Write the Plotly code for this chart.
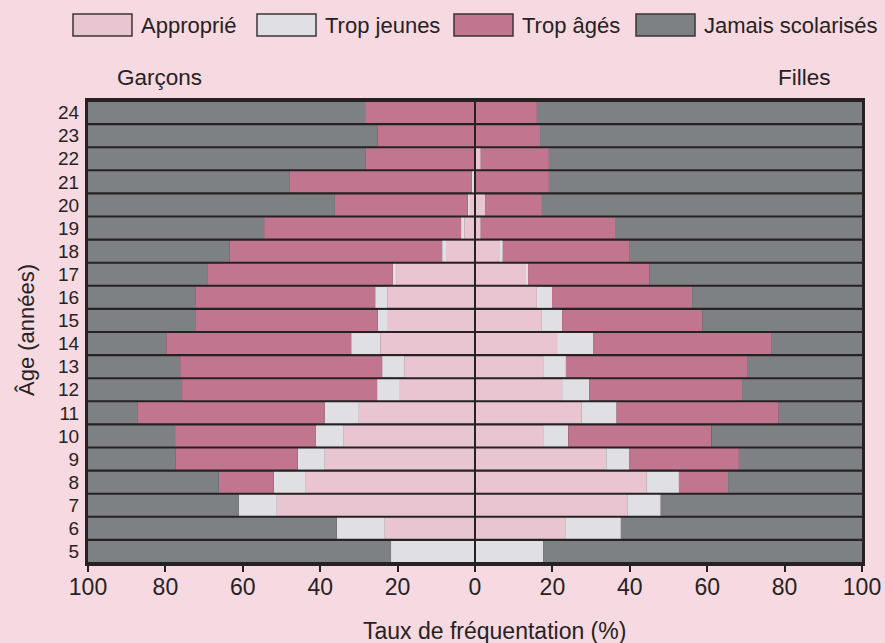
import plotly.graph_objects as go

ages = list(range(5, 25))

# Boys (Garçons) — values in %, listed for ages 5..24
boys_appropr = [0, 23.3, 51.2, 43.7, 38.8, 33.9, 30.0, 19.4, 18.3, 24.5, 22.5, 22.7, 20.4, 7.5, 2.8, 1.3, 0.3, 0, 0, 0]
boys_jeunes = [21.7, 12.4, 9.8, 8.3, 7.0, 7.2, 8.8, 5.9, 5.7, 7.5, 2.6, 3.1, 0.8, 1.0, 0.8, 0.6, 0.5, 0, 0, 0]
boys_ages = [0, 0, 0, 14.2, 31.5, 36.4, 48.3, 50.4, 52.2, 47.8, 47.0, 46.5, 47.8, 55.0, 50.9, 34.3, 47.2, 28.2, 25.1, 28.4]
boys_jamais = [78.3, 64.3, 39.0, 33.8, 22.7, 22.5, 12.9, 24.3, 23.8, 20.2, 27.9, 27.7, 31.0, 36.5, 45.5, 63.8, 52.0, 71.8, 74.9, 71.6]

# Girls (Filles)
girls_appropr = [0, 23.5, 39.5, 44.4, 33.9, 17.6, 27.6, 22.5, 17.6, 21.2, 17.1, 16.0, 13.2, 6.7, 1.5, 2.6, 0, 1.5, 0, 0]
girls_jeunes = [17.6, 14.2, 8.5, 8.3, 5.9, 6.5, 9.0, 7.0, 5.9, 9.3, 5.4, 3.9, 0.5, 0.5, 0, 0, 0, 0, 0, 0]
girls_ages = [0, 0, 0, 12.7, 28.4, 37.0, 41.9, 39.5, 47.0, 46.0, 36.2, 36.2, 31.3, 32.8, 34.9, 14.7, 19.1, 17.6, 16.8, 16.0]
girls_jamais = [82.4, 62.3, 52.0, 34.6, 31.8, 38.9, 21.5, 31.0, 29.5, 23.5, 41.3, 43.9, 55.0, 60.0, 63.6, 82.7, 80.9, 80.9, 83.2, 84.0]

series_names = ["Approprié", "Trop jeunes", "Trop âgés", "Jamais scolarisés"]
x_ticks = [-100, -80, -60, -40, -20, 0, 20, 40, 60, 80, 100]
x_ticktext = ["100", "80", "60", "40", "20", "0", "20", "40", "60", "80", "100"]

colors = ["#e8c5d0", "#e0dfe3", "#c1758f", "#7e8184"]
BG = "#f6d9e1"
DARK = "#262223"
FONT = "Liberation Sans, Arial, sans-serif"

W, H = 885, 643
L, R, T, B = 88, 23, 101, 80
PW, PH = W - L - R, H - T - B


def px(x):
    # reference screenshot pixel -> paper coordinate
    return (x - L) / PW


def py(y):
    return (H - B - y) / PH


fig = go.Figure()
boys = [boys_appropr, boys_jeunes, boys_ages, boys_jamais]
girls = [girls_appropr, girls_jeunes, girls_ages, girls_jamais]
for name, col, vals in zip(series_names, colors, boys):
    fig.add_trace(go.Bar(y=ages, x=[-v for v in vals], orientation="h", name=name,
                         marker=dict(color=col, line=dict(width=0)), showlegend=False,
                         customdata=vals, hovertemplate="Garçons %{y} ans: %{customdata}%<extra>" + name + "</extra>"))
for name, col, vals in zip(series_names, colors, girls):
    fig.add_trace(go.Bar(y=ages, x=vals, orientation="h", name=name,
                         marker=dict(color=col, line=dict(width=0)), showlegend=False,
                         hovertemplate="Filles %{y} ans: %{x}%<extra>" + name + "</extra>"))

shapes = []
annotations = []
# centre line
shapes.append(dict(type="line", xref="x", yref="paper", x0=0, x1=0, y0=0, y1=1,
                   line=dict(color=DARK, width=2), layer="above"))

# custom legend
sw_x = [73, 257, 454, 636]
for name, col, x0 in zip(series_names, colors, sw_x):
    shapes.append(dict(type="rect", xref="paper", yref="paper",
                       x0=px(x0), x1=px(x0 + 59), y0=py(36), y1=py(14),
                       fillcolor=col, line=dict(color="#3a3536", width=1.5)))
    annotations.append(dict(text=name, xref="paper", yref="paper", x=px(x0 + 66), y=py(26),
                            xanchor="left", yanchor="middle", showarrow=False,
                            font=dict(size=22, color=DARK, family=FONT)))

annotations.append(dict(text="Garçons", xref="paper", yref="paper", x=px(159), y=py(77),
                        xanchor="center", yanchor="middle", showarrow=False,
                        font=dict(size=22.5, color=DARK, family=FONT)))
annotations.append(dict(text="Filles", xref="paper", yref="paper", x=px(804), y=py(77),
                        xanchor="center", yanchor="middle", showarrow=False,
                        font=dict(size=22.5, color=DARK, family=FONT)))
annotations.append(dict(text="Taux de fréquentation (%)", xref="paper", yref="paper", x=px(494), y=py(631),
                        xanchor="center", yanchor="middle", showarrow=False,
                        font=dict(size=23, color=DARK, family=FONT)))
annotations.append(dict(text="Âge (années)", xref="paper", yref="paper", x=px(26), y=py(330),
                        xanchor="center", yanchor="middle", showarrow=False, textangle=-90,
                        font=dict(size=22, color=DARK, family=FONT)))

fig.update_layout(
    width=W, height=H,
    margin=dict(l=L, r=R, t=T, b=B, autoexpand=False),
    paper_bgcolor=BG, plot_bgcolor=DARK,
    barmode="relative", bargap=0.09,
    shapes=shapes, annotations=annotations,
    font=dict(family=FONT, color=DARK),
    xaxis=dict(range=[-100, 100], tickvals=x_ticks, ticktext=x_ticktext, automargin=False,
               ticks="outside", ticklen=6, tickwidth=1.5, tickcolor=DARK, ticklabelstandoff=-5,
               tickfont=dict(size=23, color=DARK, family=FONT),
               showgrid=False, zeroline=False, showline=True, linecolor=DARK, linewidth=3, mirror=True,
               fixedrange=True),
    yaxis=dict(range=[4.5, 24.5], tickvals=ages, ticktext=[str(a) for a in ages], automargin=False,
               ticks="", tickfont=dict(size=19, color=DARK, family=FONT), ticklabelstandoff=2,
               showgrid=False, zeroline=False, showline=True, linecolor=DARK, linewidth=3, mirror=True,
               fixedrange=True),
)

# remove the page's default body margin so the figure fills the window
page_js = ("document.body.style.margin='0';document.body.style.overflow='hidden';"
           "document.body.style.background='" + BG + "';")

fig.write_html("out.html", post_script=page_js, config={"displayModeBar": False})
